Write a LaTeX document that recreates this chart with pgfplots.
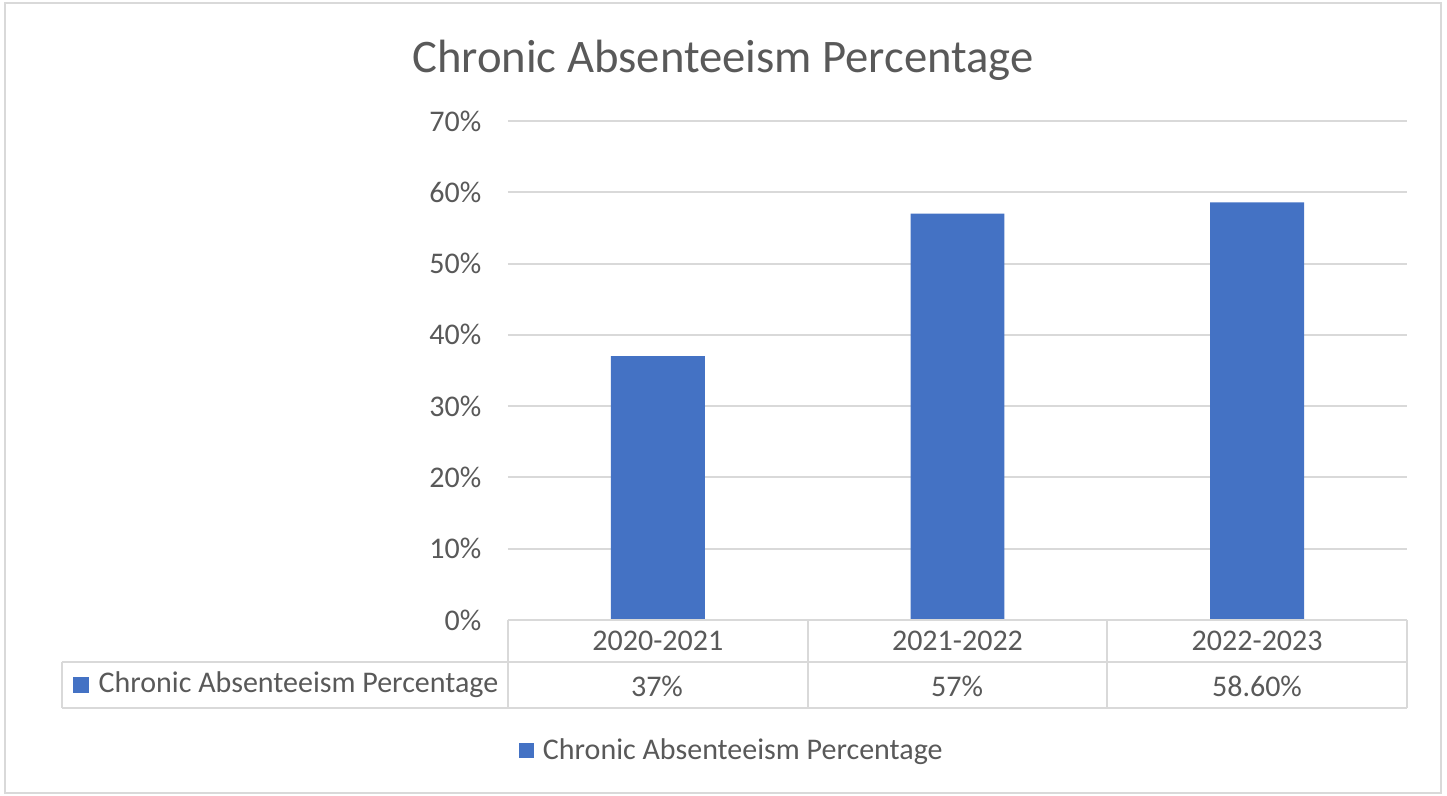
\documentclass[border=0pt]{standalone}
\usepackage{fontspec}
\setmainfont{Carlito}
\usepackage{pgfplots}
\pgfplotsset{compat=1.18}
\definecolor{txt}{HTML}{595959}
\definecolor{gridc}{HTML}{D9D9D9}
\definecolor{barc}{HTML}{4472C4}
\begin{document}
\fontsize{9}{11}\selectfont
\begin{tikzpicture}
\begin{axis}[
  at={(0,0)}, anchor=south west,
  width=269.7pt, height=149.7pt, scale only axis,
  xmin=-0.5, xmax=2.5, ymin=0, ymax=70,
  axis line style={draw=none},
  tick style={draw=none}, major tick length=0pt,
  ytick={0,10,20,30,40,50,60,70},
  yticklabels={0\%,10\%,20\%,30\%,40\%,50\%,60\%,70\%},
  yticklabel style={anchor=east, inner sep=0pt, xshift=-7.8pt, text=txt, font=\fontsize{9}{11}\selectfont},
  xtick={0,1,2},
  xticklabels={2020-2021,2021-2022,2022-2023},
  xticklabel style={anchor=center, inner sep=0pt, yshift=-6.3pt, text=txt, font=\fontsize{9}{11}\selectfont},
  ymajorgrids, grid style={draw=gridc, line width=0.6pt},
  clip=false,
  legend style={at={(rel axis cs:0.01224,-0.2625)}, anchor=west, draw=none, inner sep=0pt, outer sep=0pt,
    column sep=2.7pt, cells={anchor=west}, nodes={inner sep=0pt, text=txt, font=\fontsize{9}{11}\selectfont}},
  legend image code/.code={\fill[#1, draw=none] (0pt,-2.25pt) rectangle (4.5pt,2.25pt);},
]
\addplot[ybar, bar width=0.3133, fill=barc, draw=none] coordinates {(0,37) (1,57) (2,58.6)};
\addlegendentry{Chronic Absenteeism Percentage}
\end{axis}
\begin{scope}[x=0.3pt, y=-0.3pt, shift={(-152.4pt,186pt)}]
  \path[use as bounding box] (0,0) rectangle (1447,795);
  \draw[gridc, line width=0.45pt] (5,3) rectangle (1441,793);
  \node[text=txt, font=\fontsize{14}{17}\selectfont] at (723,60) {Chronic Absenteeism Percentage};
  % data table
  \begin{scope}[draw=gridc, line width=0.6pt]
    \draw (508,620) -- (1407,620);
    \draw (62,662) -- (1407,662);
    \draw (62,708) -- (1407,708);
    \draw (62,662) -- (62,708);
    \draw (508,620) -- (508,708);
    \draw (808,620) -- (808,708);
    \draw (1107,620) -- (1107,708);
    \draw (1407,620) -- (1407,708);
  \end{scope}
  \fill[barc] (73,677) rectangle (89,693);
  \node[anchor=west, inner sep=0pt, text=txt] at (98,685) {Chronic Absenteeism Percentage};
  \node[text=txt, inner sep=0pt] at (657,686) {37\%};
  \node[text=txt, inner sep=0pt] at (957,686) {57\%};
  \node[text=txt, inner sep=0pt] at (1257,686) {58.60\%};
\end{scope}
\end{tikzpicture}
\end{document}
